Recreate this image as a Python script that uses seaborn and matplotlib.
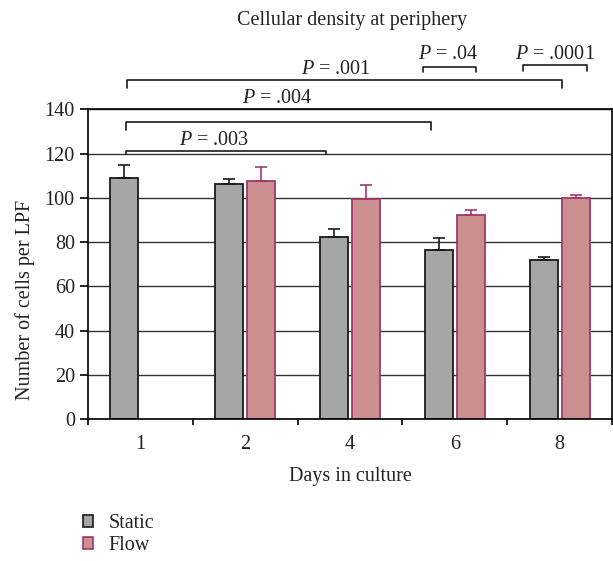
import pandas as pd
import matplotlib
matplotlib.use("Agg")
import matplotlib.pyplot as plt
import seaborn as sns
from matplotlib.patches import Patch

# Dane
days = ['1', '2', '4', '6', '8']
static_mean = [109.1, 106.4, 82.5, 76.3, 72.1]
static_err = [5.7, 2.0, 3.6, 5.4, 1.2]
flow_days = ['2', '4', '6', '8']
flow_mean = [107.8, 99.3, 92.4, 100.1]
flow_err = [6.3, 6.5, 2.1, 1.3]

# Etykiety porownan
p_labels = ['$P$ = .003', '$P$ = .004', '$P$ = .001', '$P$ = .04', '$P$ = .0001']

df = pd.DataFrame({
    'day': days + flow_days,
    'cells': static_mean + flow_mean,
    'condition': ['Static'] * len(days) + ['Flow'] * len(flow_days),
})

sns.set_theme(style='white')
plt.rcParams['font.family'] = ['Liberation Serif', 'DejaVu Serif']
plt.rcParams['mathtext.fontset'] = 'custom'
plt.rcParams['mathtext.it'] = 'Liberation Serif:italic'
plt.rcParams['mathtext.rm'] = 'Liberation Serif'
fs = 14.5

static_fill, static_edge = '#a6a6a6', '#1a1a1a'
flow_fill, flow_edge = '#cc8f8f', '#a3386c'

fig = plt.figure(figsize=(6.13, 5.61), dpi=100)
ax = fig.add_axes([88 / 613, 1 - 419.3 / 561, 524 / 613, 310 / 561])

sns.barplot(data=df, x='day', y='cells', hue='condition', order=days,
            hue_order=['Static', 'Flow'], palette=[static_fill, flow_fill], saturation=1,
            width=0.61, gap=0.125, errorbar=None, legend=False, ax=ax)

for cont, edge, err in zip(ax.containers, [static_edge, flow_edge], [static_err, flow_err]):
    xs = []
    for p in cont:
        p.set_edgecolor(edge)
        p.set_linewidth(1.3)
        xs.append(p.get_x() + p.get_width() / 2)
    ax.errorbar(xs, cont.datavalues, yerr=[[0] * len(err), err], fmt='none',
                ecolor=edge, elinewidth=1.2, capsize=4, capthick=1.2, zorder=3)

ax.set_ylim(0, 140)
ax.set_yticks(range(0, 141, 20))
ax.set_xlim(-0.5, 4.5)
ax.yaxis.grid(True, color='#333333', linewidth=1)
ax.set_axisbelow(True)
for s in ax.spines.values():
    s.set_color('black')
    s.set_linewidth(1.2)

ax.set_xticks(range(5))
ax.set_xticklabels(days)
ax.set_xticks([i - 0.5 for i in range(6)], minor=True)
ax.tick_params(axis='x', which='major', length=0, pad=11, labelsize=fs, colors='#222222')
ax.tick_params(axis='x', which='minor', length=4.3, width=1.2, direction='out', color='black', bottom=True)
ax.tick_params(axis='y', length=5.5, width=1.2, direction='out', pad=4, labelsize=fs,
               color='black', labelcolor='#222222', left=True)

ax.set_xlabel('Days in culture', fontsize=fs, color='#222222', labelpad=10)
ax.set_ylabel('Number of cells per LPF', fontsize=fs, color='#222222')
ax.yaxis.set_label_coords(-0.102, 0.385)

fig.text(352 / 613, 1 - 20.7 / 561, 'Cellular density at periphery', ha='center', va='center',
         fontsize=fs, color='#222222')

# Klamry z wartosciami p
brackets = [(-0.138, 1.77, 121.2, 119.8, 0.70, 126.1),
            (-0.138, 2.77, 134.1, 130.7, 1.31, 144.7),
            (-0.125, 4.02, 153.1, 149.5, 1.87, 157.8),
            (2.70, 3.20, 159.2, 157.0, 2.94, 164.6),
            (3.65, 4.26, 160.0, 157.3, 3.96, 164.6)]
for (x1, x2, y, yl, tx, ty), lab in zip(brackets, p_labels):
    ax.plot([x1, x1, x2, x2], [yl, y, y, yl], color='#1a1a1a', lw=1.2, clip_on=False, zorder=4)
    ax.text(tx, ty, lab, ha='center', va='center', fontsize=fs, color='#222222', clip_on=False)

handles = [Patch(facecolor=static_fill, edgecolor=static_edge, linewidth=1.2, label='Static'),
           Patch(facecolor=flow_fill, edgecolor=flow_edge, linewidth=1.2, label='Flow')]
leg = fig.legend(handles=handles, loc='upper left', bbox_to_anchor=(83 / 613, 1 - 514 / 561),
                 frameon=False, fontsize=fs, handlelength=0.52, handleheight=0.52,
                 handletextpad=0.75, labelspacing=0.15, borderaxespad=0, borderpad=0)
for t in leg.get_texts():
    t.set_color('#222222')

fig.savefig('out.png', dpi=100)
